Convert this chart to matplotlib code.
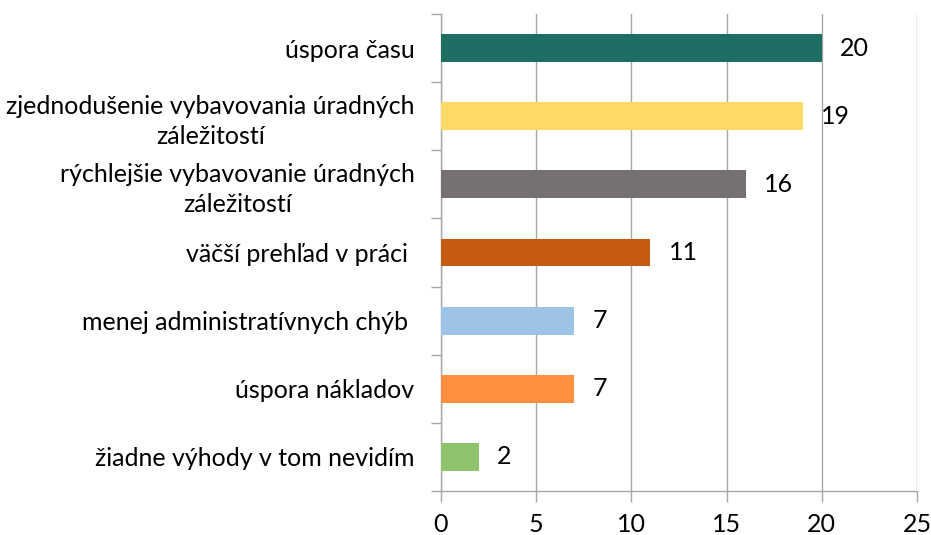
import matplotlib
matplotlib.use("Agg")
import matplotlib.pyplot as plt
from matplotlib.ticker import FixedLocator

plt.rcParams['font.family'] = ['Lato', 'DejaVu Sans']

categories = [
    "úspora času",
    "zjednodušenie vybavovania úradných\nzáležitostí",
    "rýchlejšie vybavovanie úradných\nzáležitostí",
    "väčší prehľad v práci ",
    "menej administratívnych chýb ",
    "úspora nákladov",
    "žiadne výhody v tom nevidím",
]
values = [20, 19, 16, 11, 7, 7, 2]
colors = ["#1E6E64", "#FDD966", "#767171", "#C55A11", "#9DC3E6", "#FF9040", "#8FC36B"]
xticks = [0, 5, 10, 15, 20, 25]

fig = plt.figure(figsize=(9.31, 5.35), dpi=100)
ax = fig.add_axes([441/931, 1-491/535, (917-441)/931, (491-14)/535])

n = len(categories)
ypos = list(range(n))
ax.barh(ypos, values, height=0.41, color=colors, zorder=3)
ax.set_ylim(n - 0.5, -0.5)
ax.set_xlim(0, 25)

for y, v in zip(ypos, values):
    ax.annotate(str(v), (v, y), xytext=(13, 0), textcoords="offset points",
                va="center", ha="left", fontsize=18, color="#000000")

ax.set_yticks(ypos)
ax.set_yticklabels(categories, fontsize=18, ha="right", multialignment="center",
                   linespacing=1.35)
ax.tick_params(axis="y", which="major", length=0, pad=19)
ax.yaxis.set_minor_locator(FixedLocator([i - 0.5 for i in range(n + 1)]))
ax.tick_params(axis="y", which="minor", length=7, color="#A6A6A6", width=1)

ax.set_xticks(xticks)
ax.set_xticklabels([str(t) for t in xticks], fontsize=18)
ax.tick_params(axis="x", length=8, color="#A6A6A6", width=1, pad=8)
ax.grid(axis="x", color="#A6A6A6", linewidth=1, zorder=0)

for s in ["top", "right"]:
    ax.spines[s].set_visible(False)
for s in ["left", "bottom"]:
    ax.spines[s].set_color("#A6A6A6")
    ax.spines[s].set_linewidth(1)

fig.savefig("out.png", dpi=100, facecolor="white")
